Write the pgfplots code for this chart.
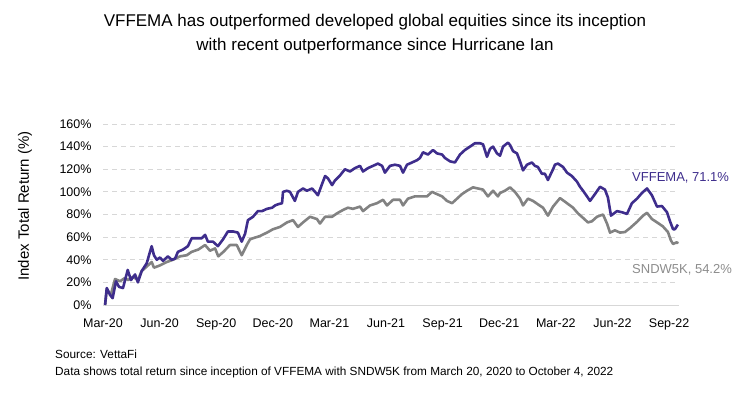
\documentclass[border=0pt]{standalone}
\usepackage{pgfplots}
\pgfplotsset{compat=1.18}
\usepackage{fontspec}
\setmainfont{Liberation Sans}
\definecolor{vpurple}{RGB}{62,45,140}
\definecolor{vgray}{RGB}{130,130,130}
\definecolor{lblgray}{RGB}{140,140,140}
\definecolor{gridgray}{RGB}{215,215,215}
\begin{document}
\begin{tikzpicture}[x=1bp,y=1bp]
\path[use as bounding box] (0,0) rectangle (750,396);
\begin{axis}[
  at={(103bp,91bp)}, anchor=south west,
  scale only axis, width=575.5bp, height=181bp,
  xmin=0, xmax=30.5, ymin=0, ymax=160,
  axis lines*=left,
  y axis line style={draw=none},
  x axis line style={draw=gridgray, line width=0.8bp},
  major tick length=0pt,
  xtick={0,3,...,30},
  xticklabels={Mar-20,Jun-20,Sep-20,Dec-20,Mar-21,Jun-21,Sep-21,Dec-21,Mar-22,Jun-22,Sep-22},
  ytick={0,20,...,160},
  yticklabel={\pgfmathprintnumber{\tick}\%},
  /pgf/number format/assume math mode=true,
  tick label style={font=\fontsize{12.5bp}{14bp}\selectfont, text=black},
  yticklabel style={xshift=-8bp},
  xticklabel style={yshift=-10bp},
  ymajorgrids,
  grid style={draw=gridgray, line width=0.8bp, dash pattern=on 5bp off 4bp},
  clip=false,
]
\addplot[vgray, line width=2.6bp, line join=round] coordinates {
(0.11,0) (0.20,14) (0.41,9) (0.64,23) (0.90,21) (1.17,24) (1.32,22) (1.59,25) (1.85,22) (2.05,30)
(2.32,34) (2.58,38) (2.70,33) (3.02,35) (3.38,38) (3.71,40) (4.08,43) (4.44,44) (4.70,47) (5.05,49)
(5.41,53) (5.67,48) (5.94,50) (6.11,43) (6.38,47) (6.73,53) (7.09,53) (7.35,44) (7.62,53) (7.79,58)
(7.95,59) (8.32,61) (8.69,64) (9.01,67) (9.38,69) (9.75,73) (10.07,75)
(10.33,69) (10.60,73) (10.97,78) (11.34,76) (11.50,72) (11.77,78) (12.14,78) (12.40,81) (12.72,84) (12.98,86)
(13.25,85) (13.62,87) (13.78,83) (14.15,88) (14.52,90) (14.84,93) (15.05,88) (15.37,93) (15.74,93) (15.90,88)
(16.16,94) (16.53,96) (16.91,96) (17.17,96) (17.44,100) (17.70,98) (17.97,96) (18.23,92) (18.50,90) (18.76,94)
(19.02,98) (19.29,101) (19.61,104) (19.87,103) (20.14,102) (20.40,96) (20.67,101) (20.93,96)
(21.04,99) (21.30,101) (21.57,104) (21.83,100) (22.10,94) (22.26,88) (22.52,94) (22.79,92) (23.05,89) (23.32,86)
(23.58,79) (23.85,87) (24.22,94.5) (24.59,90) (24.91,86) (25.17,81) (25.44,77) (25.70,73) (25.91,74) (26.18,78)
(26.50,80) (26.71,72) (26.87,64) (27.13,66) (27.40,64) (27.66,64.5) (27.93,68) (28.30,73.5) (28.62,79) (28.83,81.5)
(29.09,76) (29.41,72.5) (29.67,69.5) (29.94,64.5) (30.10,57) (30.21,54) (30.42,55.5) (30.47,54.2)
};
\addplot[vpurple, line width=2.6bp, line join=round] coordinates {
(0.11,0) (0.20,15) (0.37,9) (0.51,6) (0.69,21) (0.85,16) (1.06,15) (1.31,31) (1.48,22) (1.70,27)
(1.85,20) (2.05,30) (2.32,37) (2.49,47) (2.58,52) (2.70,44) (2.85,40) (3.02,42) (3.18,39) (3.44,43)
(3.64,40) (3.82,41) (3.97,47) (4.24,49) (4.50,52) (4.70,59) (4.97,59) (5.23,59) (5.41,62) (5.56,56)
(5.83,56) (6.09,52) (6.36,58) (6.62,65) (6.89,65) (7.15,64) (7.35,56) (7.53,63) (7.68,75) (7.95,78)
(8.21,83) (8.43,83) (8.69,85) (8.96,86) (9.12,88) (9.27,89) (9.49,90) (9.54,100) (9.75,101) (9.91,100)
(10.17,92) (10.33,100) (10.60,103) (10.81,101) (11.08,103) (11.24,100) (11.39,97) (11.61,107) (11.77,114) (11.92,112)
(12.14,106) (12.29,110) (12.56,114.5) (12.82,120) (13.09,118) (13.35,121) (13.62,123) (13.78,118) (14.04,121) (14.31,123)
(14.57,125) (14.79,123) (14.94,117) (15.21,123) (15.47,124) (15.74,123) (15.90,117) (16.11,124) (16.38,126) (16.64,128)
(16.80,130) (16.96,135) (17.22,133) (17.49,137) (17.70,134) (17.97,133) (18.12,130) (18.39,127) (18.65,126) (18.92,133)
(19.18,137) (19.45,140) (19.71,143) (19.98,143) (20.14,142) (20.35,131) (20.51,138) (20.67,140) (20.88,134)
(21.04,132) (21.20,140) (21.46,143.5) (21.57,141.5) (21.73,136) (21.94,134) (22.10,127) (22.26,119) (22.47,124) (22.73,126)
(22.89,123) (23.05,122) (23.26,116) (23.42,116) (23.58,110.5) (23.85,120) (23.95,124) (24.11,125) (24.38,122) (24.59,117)
(24.85,114) (25.12,109) (25.28,104.5) (25.44,101) (25.65,96) (25.81,92) (26.07,98) (26.34,104.5) (26.60,102) (26.76,95)
(26.92,79) (27.24,83) (27.50,82) (27.77,80.5) (28.03,90) (28.30,94) (28.56,99) (28.83,103) (29.09,97) (29.36,87)
(29.62,87.5) (29.89,82) (30.05,74) (30.21,67) (30.31,67) (30.47,71.1)
};
\end{axis}
\node[anchor=base, font=\fontsize{17bp}{20bp}\selectfont] at (375,370) {VFFEMA has outperformed developed global equities since its inception};
\node[anchor=base, font=\fontsize{17bp}{20bp}\selectfont] at (375,346) {with recent outperformance since Hurricane Ian};
\node[rotate=90, font=\fontsize{15bp}{18bp}\selectfont] at (25,190) {Index Total Return (\%)};
\node[anchor=west, inner sep=0pt, text=vpurple, font=\fontsize{13bp}{15bp}\selectfont] at (632,218) {VFFEMA, 71.1\%};
\node[anchor=west, inner sep=0pt, text=lblgray, font=\fontsize{13bp}{15bp}\selectfont] at (632,126) {SNDW5K, 54.2\%};
\node[anchor=base west, inner sep=0pt, font=\fontsize{11.8bp}{14bp}\selectfont] at (55,38) {Source: VettaFi};
\node[anchor=base west, inner sep=0pt, font=\fontsize{11.8bp}{14bp}\selectfont] at (55,21) {Data shows total return since inception of VFFEMA with SNDW5K from March 20, 2020 to October 4, 2022};
\end{tikzpicture}
\end{document}
